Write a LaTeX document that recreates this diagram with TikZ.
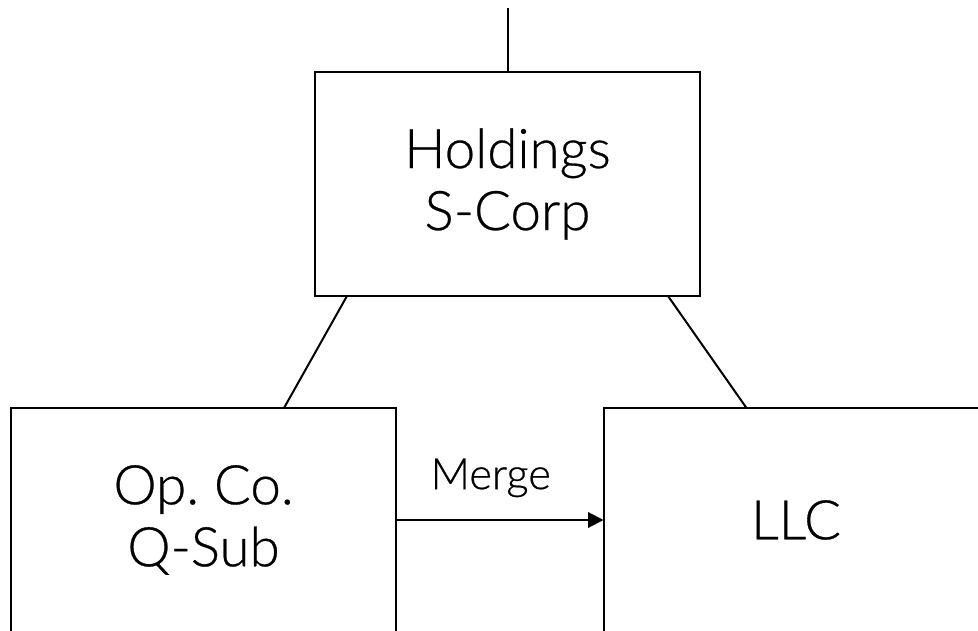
\documentclass[tikz,border=0pt]{standalone}
\usepackage{fontspec}
\setmainfont{Lato}[UprightFont=* Light, FakeBold=0.5]
\usetikzlibrary{arrows.meta,calc}
\frenchspacing
\begin{document}
\begin{tikzpicture}[x=0.75pt,y=-0.75pt,
  box/.style={draw=black,line width=1.5pt,fill=white,minimum width=288.75pt,minimum height=168pt,inner sep=0pt,outer sep=0pt,align=center,font=\fontsize{41}{46.5}\selectfont},
  conn/.style={draw=black,line width=1.5pt}]
\useasboundingbox (0,0) rectangle (978,631);
\clip (0,0) rectangle (978,631);
\fill[white] (0,0) rectangle (978,631);
\node[box] (hold) at (507.5,184) {Holdings\\S-Corp};
\node[box] (opco) at (203.5,520) {Op. Co.\\Q-Sub};
\node[box] (llc) at (796,520) {LLC};
\coordinate (top) at (507.5,8);
\draw[conn] (top) -- (hold.north);
\draw[conn] ($(hold.south west)+(32,0)$) -- ($(opco.north west)+(273,0)$);
\draw[conn] ($(hold.south west)+(353,0)$) -- ($(llc.north west)+(143,0)$);
\draw[conn,-{Triangle[length=11.5pt,width=11.5pt]}] (opco.east) -- (llc.west) node[midway,above=13pt,xshift=-6.75pt,font=\fontsize{32.5}{38}\selectfont] (mlab) {Merge};
\end{tikzpicture}
\end{document}
